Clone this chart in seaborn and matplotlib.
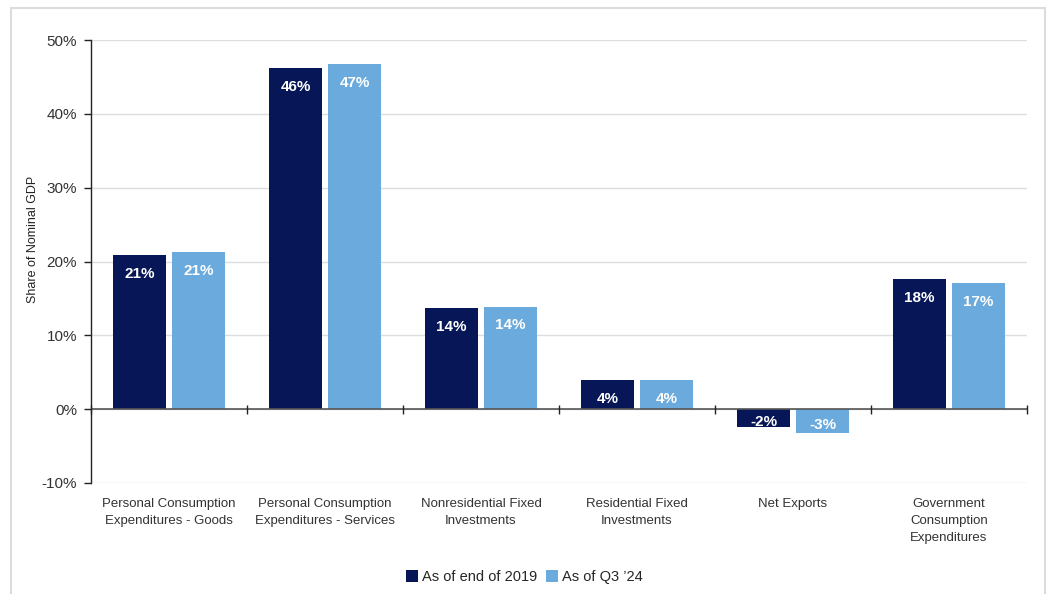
import matplotlib
matplotlib.use("Agg")
import matplotlib.pyplot as plt
import seaborn as sns
import pandas as pd
from matplotlib.patches import Rectangle, Patch

categories = [
    "Personal Consumption\nExpenditures - Goods",
    "Personal Consumption\nExpenditures - Services",
    "Nonresidential Fixed\nInvestments",
    "Residential Fixed\nInvestments",
    "Net Exports",
    "Government\nConsumption\nExpenditures",
]
series_names = ["As of end of 2019", "As of Q3 \u201924"]
values_2019 = [20.9, 46.2, 13.7, 3.9, -2.4, 17.6]
values_q324 = [21.3, 46.7, 13.9, 3.9, -3.2, 17.1]
yticks = [-10, 0, 10, 20, 30, 40, 50]

colors = ["#061656", "#6aaadc"]

df = pd.DataFrame({
    "category": categories * 2,
    "series": [series_names[0]] * len(categories) + [series_names[1]] * len(categories),
    "value": values_2019 + values_q324,
})

sns.set_theme(style="white")
plt.rcParams["font.family"] = ["Liberation Sans", "DejaVu Sans"]

fig = plt.figure(figsize=(10.49, 5.94), dpi=100)
ax = fig.add_axes([91 / 1049, 1 - 483 / 594, 936 / 1049, 443 / 594])

sns.barplot(data=df, x="category", y="value", hue="series", palette=colors,
            width=0.756, gap=0.085, ax=ax, legend=False, saturation=1,
            edgecolor="none", linewidth=0)

ax.set_ylim(-10, 50)
ax.set_xlim(-0.5, len(categories) - 0.5)
ax.set_yticks(yticks)
ax.set_yticklabels([f"{v}%" for v in yticks], fontsize=11, color="#333333")
ax.yaxis.grid(True, color="#dddddd", linewidth=1.0)
ax.set_axisbelow(True)

for s in ["top", "right", "bottom"]:
    ax.spines[s].set_visible(False)
ax.spines["left"].set_color("#222222")
ax.spines["left"].set_linewidth(1.0)
ax.tick_params(axis="y", length=5, width=1, color="#222222", pad=5, left=True)
ax.tick_params(axis="x", length=0, pad=11, labelsize=9.5, labelcolor="#333333")
ax.set_xticks(range(len(categories)))
ax.set_xticklabels(categories, linespacing=1.55)
ax.set_xlabel("")
ax.set_ylabel("Share of Nominal GDP", fontsize=9, color="#222222")
ax.yaxis.set_label_coords(-0.056, 0.55)

# zero line and group boundary ticks
ax.axhline(0, color="#555555", linewidth=1.2, zorder=3)
ax.vlines([i - 0.5 for i in range(len(categories) + 1)], -0.6, 0.6,
          color="#222222", linewidth=1.0, zorder=3, clip_on=False)

# value labels
for cont in ax.containers:
    for bar in cont:
        h = bar.get_height()
        x = bar.get_x() + bar.get_width() / 2
        if h >= 0:
            ax.annotate(f"{h:.0f}%", xy=(x, h), xytext=(0, -13.5),
                        textcoords="offset points", ha="center", va="center",
                        color="white", fontsize=11, fontweight="bold", zorder=4)
        else:
            ax.annotate(f"{h:.0f}%", xy=(x, h / 2), xytext=(0, -3),
                        textcoords="offset points", ha="center", va="center",
                        color="white", fontsize=11, fontweight="bold", zorder=4)

handles = [Patch(facecolor=c, edgecolor="none") for c in colors]
fig.legend(handles, series_names, loc="center", bbox_to_anchor=(0.5, 1 - 577 / 594),
           ncol=2, frameon=False, fontsize=10.5, handlelength=0.8, handleheight=0.8,
           handletextpad=0.3, columnspacing=0.6)

# outer light frame
fig.patches.append(Rectangle((11 / 1049, -0.05), 1034 / 1049, 1.05 - 8 / 594,
                             transform=fig.transFigure, fill=False,
                             edgecolor="#dcdcdc", linewidth=1.5))

fig.savefig("out.png", dpi=100)
